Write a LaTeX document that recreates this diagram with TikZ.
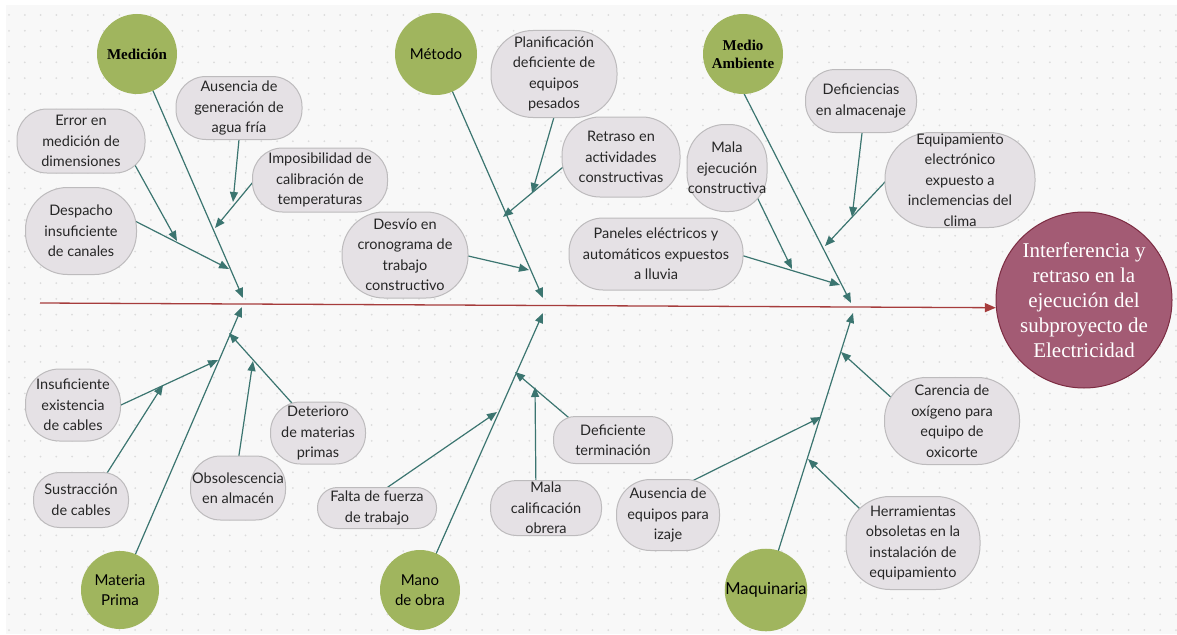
\documentclass[tikz,border=0pt]{standalone}
\usepackage{fontspec}
\newfontfamily\lato{Lato}
\newfontfamily\tnr{Liberation Serif}
\usetikzlibrary{arrows.meta}
\definecolor{bgpanel}{HTML}{F8F8F8}
\definecolor{dotc}{HTML}{DCDCDC}
\definecolor{causefill}{HTML}{E5E1E5}
\definecolor{causeborder}{HTML}{BDBBBD}
\definecolor{catgreen}{HTML}{A0B55E}
\definecolor{boneteal}{HTML}{3B7570}
\definecolor{spinered}{HTML}{A63C3C}
\definecolor{efffill}{HTML}{A35B74}
\definecolor{effborder}{HTML}{7C2C42}
\pgfdeclarelayer{bglayer}
\pgfdeclarelayer{bonelayer}
\pgfsetlayers{bglayer,bonelayer,main}
\begin{document}
\begin{tikzpicture}[x=1pt,y=-1pt,
  cause/.style={draw=causeborder, fill=causefill, line width=1pt, align=center, inner sep=0pt,
    font=\lato\fontsize{14.5}{20.5}\selectfont, text=black!85},
  cat/.style={circle, fill=catgreen, inner sep=0pt, align=center, text=black},
  catsans/.style={cat, font=\lato\fontsize{15}{20}\selectfont},
  catserif/.style={cat, font=\tnr\bfseries\fontsize{15}{18}\selectfont},
  bone/.style={draw=boneteal, line width=1.2pt, -{Triangle[length=10pt,width=8pt]}},
]
\useasboundingbox (0,0) rectangle (1177,634);
\begin{pgfonlayer}{bglayer}
\fill[white] (0,0) rectangle (1177,634);
\fill[bgpanel] (6,5) rectangle (1177,634);
\foreach \i in {0,...,74} {\foreach \j in {0,...,39} {\fill[dotc] (9+15.77*\i, 15+15.77*\j) circle (1pt);}}
\end{pgfonlayer}

% categories
\node[catserif, minimum size=80pt] (med) at (137,54) {Medición};
\node[catsans, minimum size=82pt] (met) at (436,54) {Método};
\node[catserif, minimum size=80pt] (amb) at (743,54) {Medio\\Ambiente};
\node[catsans, minimum size=78pt] (mat) at (120,590) {Materia\\Prima};
\node[catsans, minimum size=80pt] (mano) at (420,590) {Mano\\de obra};
\node[catsans, minimum size=78pt, font=\lato\fontsize{16.5}{20}\selectfont] (maq) at (766,590) {Maquinaria};

% effect
\node[circle, fill=efffill, draw=effborder, line width=1pt, minimum size=176pt, inner sep=0pt, align=center,
  text=white, font=\tnr\fontsize{21}{25}\selectfont] (eff) at (1084,300)
  {Interferencia y\\retraso en la\\ejecución del\\subproyecto de\\Electricidad};

% causes
\node[cause, minimum width=128pt, minimum height=64pt, rounded corners=30pt] (err) at (81,141) {Error en\\medición de\\dimensiones};
\node[cause, minimum width=126pt, minimum height=63pt, rounded corners=30pt] (agua) at (239,108) {Ausencia de\\generación de\\agua fría};
\node[cause, minimum width=135pt, minimum height=64pt, rounded corners=30pt] (cal) at (320,180) {Imposibilidad de\\calibración de\\temperaturas};
\node[cause, minimum width=111pt, minimum height=87pt, rounded corners=42pt] (desp) at (81,231) {Despacho\\insuficiente\\de canales};
\node[cause, minimum width=126pt, minimum height=87pt, rounded corners=42pt] (plan) at (554,74) {Planificación\\deficiente de\\equipos\\pesados};
\node[cause, minimum width=118pt, minimum height=80pt, rounded corners=38pt] (retr) at (621,157) {Retraso en\\actividades\\constructivas};
\node[cause, minimum width=80pt, minimum height=87pt, rounded corners=38pt] (malae) at (727,168) {Mala\\ejecución\\constructiva};
\node[cause, minimum width=126pt, minimum height=86pt, rounded corners=42pt] (desv) at (405,255) {Desvío en\\cronograma de\\trabajo\\constructivo};
\node[cause, minimum width=174pt, minimum height=72pt, rounded corners=34pt] (pan) at (656,254) {Paneles eléctricos y\\automáticos expuestos\\a lluvia};
\node[cause, minimum width=111pt, minimum height=63pt, rounded corners=30pt] (alm) at (861,101) {Deficiencias\\en almacenaje};
\node[cause, minimum width=150pt, minimum height=95pt, rounded corners=46pt] (equip) at (960,180) {Equipamiento\\electrónico\\expuesto a\\inclemencias del\\clima};
\node[cause, minimum width=95pt, minimum height=72pt, rounded corners=34pt] (insu) at (73,405) {Insuficiente\\existencia\\de cables};
\node[cause, minimum width=95pt, minimum height=55pt, rounded corners=26pt] (sust) at (81,500) {Sustracción\\de cables};
\node[cause, minimum width=95pt, minimum height=64pt, rounded corners=30pt] (obso) at (238,488) {Obsolescencia\\en almacén};
\node[cause, minimum width=95pt, minimum height=62pt, rounded corners=30pt] (dete) at (318,433) {Deterioro\\de materias\\primas};
\node[cause, minimum width=119pt, minimum height=41pt, rounded corners=20pt] (falta) at (377,508) {Falta de fuerza\\de trabajo};
\node[cause, minimum width=111pt, minimum height=55pt, rounded corners=26pt] (calif) at (546,508) {Mala\\calificación\\obrera};
\node[cause, minimum width=119pt, minimum height=47pt, rounded corners=22pt] (term) at (613,440) {Deficiente\\terminación};
\node[cause, minimum width=103pt, minimum height=71pt, rounded corners=34pt] (izaje) at (668,515) {Ausencia de\\equipos para\\izaje};
\node[cause, minimum width=135pt, minimum height=87pt, rounded corners=42pt] (oxi) at (952,421) {Carencia de\\oxígeno para\\equipo de\\oxicorte};
\node[cause, minimum width=134pt, minimum height=93pt, rounded corners=44pt] (herr) at (913,543) {Herramientas\\obsoletas en la\\instalación de\\equipamiento};

% free ends
\coordinate (s0) at (40,303);
\coordinate (mA) at (243,298);
\coordinate (eA) at (177,241);
\coordinate (dA) at (229,269);
\coordinate (aA) at (233,202);
\coordinate (iA) at (215,228);
\coordinate (mB) at (543,298);
\coordinate (pB) at (532,193);
\coordinate (rB) at (503,217);
\coordinate (dB) at (529,270);
\coordinate (mC) at (851,303);
\coordinate (eC) at (792,269);
\coordinate (pC) at (840,285);
\coordinate (aC) at (852,217);
\coordinate (qC) at (825,246);
\coordinate (mD) at (242,307);
\coordinate (iD) at (218,360);
\coordinate (sD) at (163,385);
\coordinate (oD) at (253,361);
\coordinate (dD) at (229,333);
\coordinate (mE) at (543,313);
\coordinate (fE) at (497,412);
\coordinate (cE) at (535,387);
\coordinate (tE) at (515,372);
\coordinate (mF) at (853,313);
\coordinate (oF) at (841,352);
\coordinate (iF) at (821,417);
\coordinate (hF) at (808,459);

\begin{pgfonlayer}{bonelayer}
% spine
\draw[draw=spinered, line width=1.3pt, -{Triangle[length=11pt,width=9pt]}] (s0) -- (eff.185);
% bones (drawn from inside each node, the node hides the inner part)
\draw[bone] (med.center) -- (mA);
\draw[bone] ([shift={(46.7,10.9)}]err.center) -- (eA);
\draw[bone] ([shift={(42.6,-15.8)}]desp.center) -- (dA);
\draw[bone] ([shift={(1.4,17)}]agua.center) -- (aA);
\draw[bone] ([shift={(-57.4,-9.6)}]cal.center) -- (iA);
\draw[bone] (met.center) -- (mB);
\draw[bone] ([shift={(4.2,28.6)}]plan.center) -- (pB);
\draw[bone] ([shift={(-47.5,1.4)}]retr.center) -- (rB);
\draw[bone] ([shift={(48.4,-2.4)}]desv.center) -- (dB);
\draw[bone] ([shift={(-8,22)}]amb.center) -- (mC);
\draw[bone] ([shift={(24.4,17.5)}]malae.center) -- (eC);
\draw[bone] ([shift={(73.6,-2.3)}]pan.center) -- (pC);
\draw[bone] ([shift={(2.8,17.1)}]alm.center) -- (aC);
\draw[bone] ([shift={(-64.7,-9)}]equip.center) -- (qC);
\draw[bone] (mat.center) -- (mD);
\draw[bone] ([shift={(34.4,6.3)}]insu.center) -- (iD);
\draw[bone] ([shift={(18,-14.3)}]sust.center) -- (sD);
\draw[bone] ([shift={(-1.2,-18.2)}]obso.center) -- (oD);
\draw[bone] ([shift={(-17,-19.8)}]dete.center) -- (dD);
\draw[bone] (mano.center) -- (mE);
\draw[bone] ([shift={(-1.4,-12.5)}]falta.center) -- (fE);
\draw[bone] ([shift={(-10,-13)}]calif.center) -- (cE);
\draw[bone] ([shift={(-33.6,-13.3)}]term.center) -- (tE);
\draw[bone] (maq.center) -- (mF);
\draw[bone] ([shift={(-46.9,-10.9)}]oxi.center) -- (oF);
\draw[bone] ([shift={(12.6,-28.3)}]izaje.center) -- (iF);
\draw[bone] ([shift={(-43.2,-24.6)}]herr.center) -- (hF);
\end{pgfonlayer}
\end{tikzpicture}
\end{document}
